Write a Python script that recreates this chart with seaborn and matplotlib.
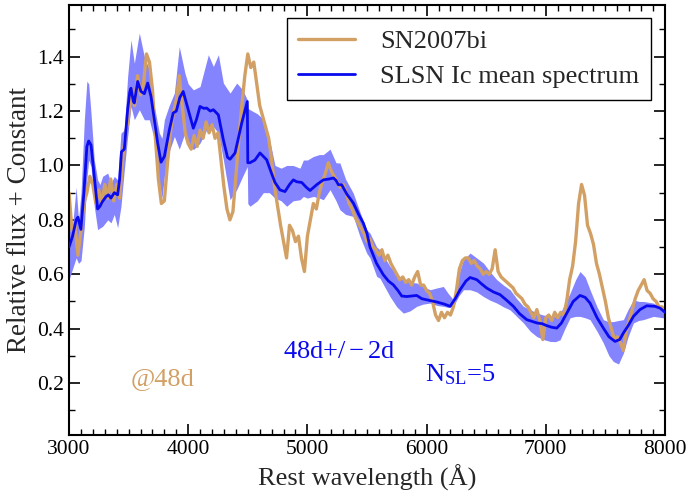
import numpy as np
import pandas as pd
import matplotlib
matplotlib.use("Agg")
import matplotlib.pyplot as plt
from matplotlib.ticker import MultipleLocator
import seaborn as sns

# ---------------- data ----------------
sn_wave = list(range(3000, 8001, 25))
sn_flux = [
    0.90, 0.76, 0.78, 0.67,
    0.76, 0.86, 0.90, 0.96,
    0.93, 0.86, 0.91, 0.86,
    0.93, 0.88, 0.95, 0.87,
    0.93, 0.88, 1.02, 1.12,
    1.18, 1.28, 1.22, 1.33,
    1.26, 1.30, 1.41, 1.38,
    1.28, 1.10, 0.95, 0.86,
    0.87, 1.00, 1.12, 1.19,
    1.24, 1.33, 1.22, 1.12,
    1.08, 1.06, 1.11, 1.07,
    1.13, 1.10, 1.16, 1.12,
    1.15, 1.10, 1.12, 1.02,
    0.92, 0.84, 0.80, 0.83,
    0.96, 1.10, 1.22, 1.33,
    1.41, 1.36, 1.38, 1.30,
    1.22, 1.18, 1.14, 1.10,
    1.02, 0.92, 0.85, 0.78,
    0.72, 0.66, 0.78, 0.76,
    0.72, 0.74, 0.66, 0.61,
    0.74, 0.80, 0.86, 0.84,
    0.90, 0.94, 0.97, 1.01,
    0.98, 0.96, 0.94, 0.92,
    0.93, 0.90, 0.86, 0.84,
    0.81, 0.79, 0.77, 0.75,
    0.72, 0.73, 0.70, 0.69,
    0.67, 0.69, 0.65, 0.67,
    0.64, 0.62, 0.60, 0.58,
    0.59, 0.57, 0.58, 0.56,
    0.59, 0.61, 0.56, 0.56,
    0.54, 0.53, 0.50, 0.45,
    0.43, 0.46, 0.44, 0.46,
    0.45, 0.48, 0.54, 0.62,
    0.65, 0.66, 0.66, 0.64,
    0.65, 0.63, 0.62, 0.60,
    0.61, 0.60, 0.62, 0.69,
    0.61, 0.59, 0.58, 0.57,
    0.56, 0.55, 0.53, 0.52,
    0.51, 0.49, 0.48, 0.46,
    0.44, 0.47, 0.43, 0.36,
    0.44, 0.45, 0.43, 0.46,
    0.44, 0.46, 0.45, 0.50,
    0.58, 0.63, 0.72, 0.86,
    0.93, 0.89, 0.78, 0.75,
    0.71, 0.64, 0.60, 0.55,
    0.50, 0.44, 0.40, 0.36,
    0.37, 0.35, 0.32, 0.39,
    0.43, 0.47, 0.51, 0.54,
    0.56, 0.58, 0.54, 0.53,
    0.51, 0.50, 0.48, 0.48,
    0.46,
]

mean_wave = [3000, 3030, 3060, 3075, 3100, 3125, 3150, 3165, 3185, 3212, 3240, 3260,
             3282, 3310, 3330, 3352, 3380, 3408, 3425, 3440, 3464, 3492, 3510, 3520,
             3540, 3548, 3576, 3604, 3632, 3660, 3688, 3716, 3744, 3772, 3800, 3842,
             3874, 3900, 3930, 3958, 4000, 4043, 4070, 4099, 4130, 4155, 4185, 4211,
             4253, 4295, 4330, 4351, 4393, 4449, 4496, 4500, 4518, 4560, 4602, 4658,
             4700, 4728, 4770, 4812, 4850, 4882, 4910, 4952, 4990, 5022, 5080, 5134,
             5180, 5218, 5240, 5260, 5288, 5330, 5385, 5430, 5469, 5500, 5525, 5580,
             5637, 5680, 5721, 5760, 5791, 5833, 5875, 5917, 5960, 6001, 6085, 6150,
             6197, 6240, 6281, 6330, 6365, 6421, 6460, 6505, 6560, 6616, 6670, 6728,
             6780, 6840, 6924, 6970, 7008, 7050, 7092, 7130, 7176, 7230, 7287, 7330,
             7371, 7430, 7483, 7530, 7581, 7620, 7651, 7690, 7735, 7790, 7847, 7917,
             7960, 8000]
mean_flux = [0.70, 0.74, 0.80, 0.81, 0.765, 0.90, 1.07, 1.09, 1.075, 0.96, 0.84, 0.85,
             0.868, 0.885, 0.892, 0.88, 0.90, 0.892, 0.95, 1.05, 1.06, 1.205, 1.27, 1.284,
             1.235, 1.23, 1.309, 1.272, 1.264, 1.303, 1.254, 1.168, 1.082, 1.012, 1.033, 1.131,
             1.193, 1.20, 1.25, 1.272, 1.205, 1.137, 1.17, 1.217, 1.21, 1.211, 1.20, 1.205,
             1.186, 1.094, 1.03, 1.023, 1.046, 1.156, 1.235, 1.01, 1.01, 1.02, 1.046, 1.021,
             0.97, 0.9375, 0.91, 0.904, 0.93, 0.947, 0.94, 0.9375, 0.92, 0.908, 0.93, 0.947,
             0.95, 0.954, 0.945, 0.929, 0.929, 0.895, 0.862, 0.82, 0.788, 0.75, 0.70, 0.64,
             0.598, 0.575, 0.561, 0.54, 0.52, 0.518, 0.52, 0.522, 0.51, 0.506, 0.498, 0.49,
             0.482, 0.51, 0.543, 0.575, 0.588, 0.580, 0.565, 0.549, 0.535, 0.525, 0.505, 0.482,
             0.455, 0.433, 0.421, 0.418, 0.411, 0.405, 0.402, 0.42, 0.457, 0.50, 0.522, 0.515,
             0.494, 0.44, 0.402, 0.37, 0.353, 0.36, 0.384, 0.41, 0.445, 0.47, 0.484, 0.482,
             0.475, 0.46]

band_wave = [3000, 3030, 3060, 3080, 3101, 3129, 3150, 3165, 3185, 3212, 3240, 3260,
             3282, 3325, 3352, 3380, 3408, 3436, 3464, 3492, 3520, 3548, 3590, 3632,
             3674, 3716, 3758, 3780, 3800, 3840, 3884, 3925, 3972, 4000, 4043, 4099,
             4169, 4211, 4253, 4295, 4351, 4407, 4457, 4496, 4500, 4518, 4580, 4630,
             4680, 4728, 4780, 4826, 4880, 4938, 4966, 5000, 5050, 5100, 5134, 5190,
             5240, 5273, 5320, 5385, 5440, 5497, 5525, 5581, 5609, 5693, 5750, 5805,
             5860, 5917, 5970, 6029, 6090, 6141, 6180, 6225, 6270, 6309, 6365, 6420,
             6477, 6530, 6589, 6645, 6700, 6756, 6812, 6870, 6924, 6980, 7036, 7080,
             7120, 7160, 7204, 7250, 7287, 7330, 7371, 7430, 7483, 7530, 7567, 7610,
             7651, 7690, 7735, 7780, 7818, 7902, 8000]
band_low = [0.58, 0.62, 0.66, 0.64, 0.65, 0.776, 0.95, 1.02, 0.996, 0.85, 0.764, 0.77,
            0.776, 0.80, 0.789, 0.82, 0.771, 0.85, 0.984, 1.107, 1.217, 1.168, 1.205, 1.168,
            1.168, 1.094, 0.935, 0.88, 0.96, 1.05, 1.107, 1.06, 1.119, 1.09, 1.058, 1.082,
            1.143, 1.143, 1.119, 1.021, 0.874, 0.911, 0.96, 0.996, 0.86, 0.85, 0.87, 0.90,
            0.90, 0.88, 0.87, 0.85, 0.87, 0.874, 0.886, 0.88, 0.886, 0.88, 0.874, 0.911,
            0.87, 0.837, 0.82, 0.8125, 0.74, 0.678, 0.66, 0.592, 0.585, 0.518, 0.48, 0.457,
            0.465, 0.482, 0.49, 0.494, 0.485, 0.482, 0.478, 0.482, 0.52, 0.543, 0.543, 0.535,
            0.518, 0.505, 0.494, 0.48, 0.469, 0.445, 0.421, 0.39, 0.371, 0.36, 0.353, 0.352,
            0.359, 0.40, 0.44, 0.445, 0.445, 0.44, 0.433, 0.39, 0.347, 0.30, 0.279, 0.27,
            0.31, 0.37, 0.421, 0.43, 0.433, 0.445, 0.439]
band_high = [0.80, 0.78, 0.92, 0.80, 0.90, 1.17, 1.31, 1.30, 1.19, 1.02, 0.947, 0.93,
             0.96, 0.972, 0.935, 0.96, 0.947, 1.119, 1.131, 1.327, 1.462, 1.376, 1.487, 1.40,
             1.352, 1.217, 1.119, 1.10, 1.168, 1.22, 1.266, 1.437, 1.34, 1.30, 1.278, 1.29,
             1.407, 1.364, 1.407, 1.303, 1.266, 1.303, 1.278, 1.241, 1.21, 1.205, 1.19, 1.17,
             1.10, 1.00, 0.99, 1.00, 1.00, 0.99, 1.02, 1.02, 1.033, 1.04, 1.04, 1.06,
             1.01, 1.009, 0.95, 0.898, 0.83, 0.764, 0.751, 0.70, 0.69, 0.629, 0.60, 0.58,
             0.57, 0.568, 0.555, 0.543, 0.55, 0.555, 0.53, 0.506, 0.60, 0.653, 0.678, 0.66,
             0.641, 0.61, 0.58, 0.56, 0.543, 0.51, 0.482, 0.47, 0.457, 0.45, 0.445, 0.445,
             0.457, 0.49, 0.531, 0.58, 0.61, 0.59, 0.543, 0.48, 0.433, 0.425, 0.426, 0.43,
             0.433, 0.47, 0.506, 0.50, 0.50, 0.494, 0.469]

label_sn = "SN2007bi"
label_mean = "SLSN Ic mean spectrum"

# ---------------- styling ----------------
sns.set_theme(style="ticks")
plt.rcParams["font.family"] = ["Liberation Serif", "DejaVu Serif"]
plt.rcParams["mathtext.fontset"] = "custom"
plt.rcParams["mathtext.rm"] = "Liberation Serif"
plt.rcParams["mathtext.it"] = "Liberation Serif:italic"
plt.rcParams["xtick.direction"] = "in"
plt.rcParams["ytick.direction"] = "in"

tan = "#d2a064"
blue = "#0a0aee"
band_col = "#8484ff"

fig = plt.figure(figsize=(6.87, 4.91), dpi=100)
ax = fig.add_axes([69 / 687, 1 - 434.7 / 491, (665 - 69) / 687, (434.7 - 5) / 491])

ax.fill_between(band_wave, band_low, band_high, color=band_col, linewidth=0, zorder=1)

sn_df = pd.DataFrame({"wave": sn_wave, "flux": sn_flux})
mean_df = pd.DataFrame({"wave": mean_wave, "flux": mean_flux})

sns.lineplot(data=sn_df, x="wave", y="flux", ax=ax, color=tan, lw=2.4,
             label=label_sn, zorder=2, sort=False, estimator=None)
sns.lineplot(data=mean_df, x="wave", y="flux", ax=ax, color=blue, lw=2.0,
             label=label_mean, zorder=3, sort=False, estimator=None)

ax.set_xlim(3000, 8000)
ax.set_ylim(0.01, 1.59)
ax.xaxis.set_major_locator(MultipleLocator(1000))
ax.xaxis.set_minor_locator(MultipleLocator(100))
ax.set_yticks([0.2, 0.4, 0.6, 0.8, 1.0, 1.2, 1.4])
ax.set_yticklabels(["0.2", "0.4", "0.6", "0.8", "1.0", "1.2", "1.4"])
ax.yaxis.set_minor_locator(MultipleLocator(0.1))
ax.tick_params(which="both", direction="in", top=True, right=True,
               labelsize=15.5, colors="black")
ax.tick_params(which="major", length=8, width=1.2)
ax.tick_params(which="minor", length=4, width=1.0)
for s in ax.spines.values():
    s.set_linewidth(1.5)
    s.set_color("black")

ax.set_xlabel("Rest wavelength (Å)", fontsize=19, labelpad=4)
ax.set_ylabel("Relative flux + Constant", fontsize=19.5, labelpad=4)

ax.text(3520, 0.193, "@48d", color=tan, fontsize=19, va="baseline", ha="left")
ax.text(4795, 0.293, r"48d$+/-$2d", color=blue, fontsize=19, va="baseline", ha="left")
ax.text(5987, 0.205, r"N$_{\mathrm{SL}}$=5", color=blue, fontsize=19,
        va="baseline", ha="left")

leg = ax.legend(loc="upper right", fontsize=19, frameon=True, fancybox=False,
                handlelength=2.15, borderpad=0.45, labelspacing=0.42,
                bbox_to_anchor=(0.977, 0.97), handletextpad=0.95,
                borderaxespad=0.0)
leg.get_frame().set_edgecolor("black")
leg.get_frame().set_linewidth(1.0)
leg.get_frame().set_alpha(1)

fig.savefig("out.png", dpi=100)
